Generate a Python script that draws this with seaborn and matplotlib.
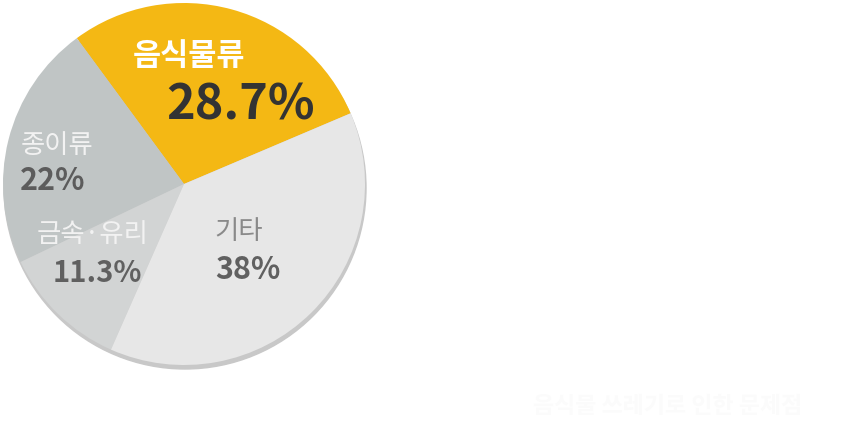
import matplotlib
matplotlib.use("Agg")
import matplotlib.pyplot as plt
from matplotlib.patches import Circle
import seaborn as sns

# --- data ---
categories = ["음식물류", "종이류", "금속·유리", "기타"]
shares = [28.7, 22, 11.3, 38]
slice_colors = ["#F4B814", "#C0C5C5", "#D2D4D4", "#E7E7E7"]
footer_text = "음식물 쓰레기로 인한 문제점"

sns.set_theme(style="white")
plt.rcParams['font.family'] = ['Noto Sans CJK KR', 'DejaVu Sans']

W, H = 862, 421
fig = plt.figure(figsize=(W / 100, H / 100), dpi=100)
ax = fig.add_axes([0, 0, 1, 1])

cx, cy, r = 184, H - 184, 181

# soft shadow under the pie
ax.add_patch(Circle((cx + 1, cy - 4), r, color="#C8C8C8", zorder=0))

ax.pie(shares, colors=slice_colors, startangle=23, counterclock=True,
       center=(cx, cy), radius=r, frame=True,
       wedgeprops=dict(linewidth=0), normalize=True)

ax.set_xlim(0, W)
ax.set_ylim(0, H)
ax.set_aspect("equal")
ax.axis("off")

# label positions (left, top in pixels) and styles
label_pos = [(133, 40), (21, 132), (37, 221), (214, 218)]
pct_pos = [(166, 80), (20, 165), (53, 258), (215, 254)]
name_style = [
    dict(size=22, weight="bold", color="white"),
    dict(size=19, weight="normal", color="#F2F2F2"),
    dict(size=19, weight="normal", color="#F2F2F2"),
    dict(size=19, weight="normal", color="#8A8A8A"),
]
pct_style = [
    dict(size=35, weight="bold", color="#333333"),
    dict(size=22, weight="bold", color="#5C5C5C"),
    dict(size=21, weight="bold", color="#606060"),
    dict(size=22, weight="bold", color="#606060"),
]

for name, val, (lx, ly), (px, py), ns, ps in zip(
        categories, shares, label_pos, pct_pos, name_style, pct_style):
    ax.text(lx, H - ly, name, ha="left", va="top", **ns)
    ax.text(px, H - py, f"{val:g}%", ha="left", va="top", **ps)

ax.text(533, H - 395, footer_text, ha="left", va="top",
        size=16.5, weight="bold", color="#FBFBFB")

fig.savefig("out.png", dpi=100, facecolor="white")
